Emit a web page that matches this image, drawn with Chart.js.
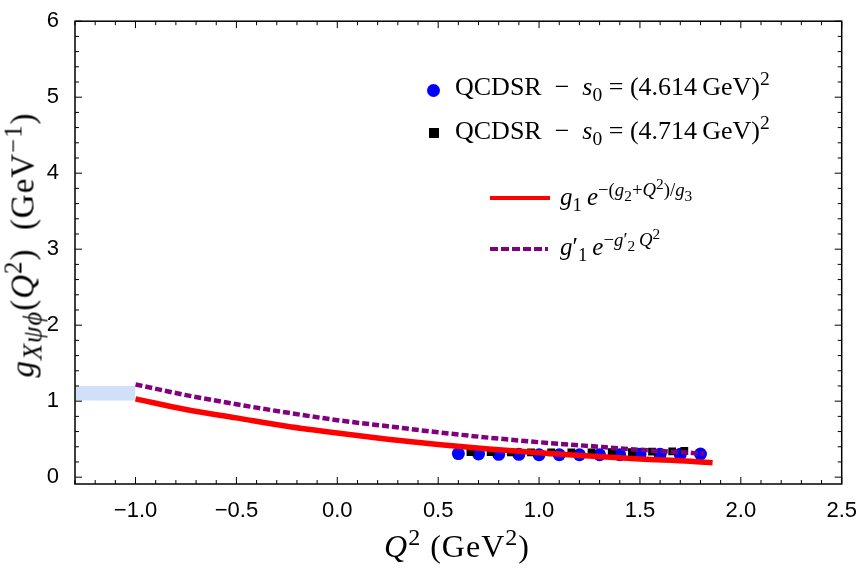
<!DOCTYPE html>
<html>
<head>
<meta charset="utf-8">
<script src="https://cdn.jsdelivr.net/npm/chart.js@4.4.1/dist/chart.umd.min.js"></script>
<style>
  html, body { margin: 0; padding: 0; background: #fff; }
  #wrap { position: relative; width: 863px; height: 569px; }
  .math { position: absolute; font-family: "Liberation Serif", "DejaVu Serif", serif; color: #000; white-space: nowrap; }
  .math sub, .math sup { font-size: 75%; line-height: 0; }
  .math sup sup, .math sup sub { font-size: 82%; }
  .mk { position: absolute; }
</style>
</head>
<body>
<div id="wrap">
  <canvas id="chart" width="863" height="569"></canvas>

  <div class="math" id="ytitle" style="left:23px; top:245px; font-size:33px; letter-spacing:1px; transform:translate(-50%,-50%) rotate(-90deg);">
    <i>g</i><sub style="font-size:80%"><i>Xψϕ</i></sub>(<i>Q</i><sup>2</sup>)&nbsp;&nbsp;(GeV<sup>−1</sup>)
  </div>
  <div class="math" id="xtitle" style="left:457px; top:546px; font-size:32px; letter-spacing:1px; transform:translate(-50%,-50%);">
    <i>Q</i><sup>2</sup>&nbsp;(GeV<sup>2</sup>)
  </div>

  <!-- legend -->
  <div class="mk" style="left:427px; top:84px; width:13px; height:13px; border-radius:50%; background:#0000ff;"></div>
  <div class="math" style="left:455px; top:72px; font-size:26px;">QCDSR &nbsp;−&nbsp; <i>s</i><sub>0</sub> = (4.614&thinsp;GeV)<sup>2</sup></div>
  <div class="mk" style="left:429px; top:128px; width:10px; height:10px; background:#000;"></div>
  <div class="math" style="left:455px; top:116px; font-size:26px;">QCDSR &nbsp;−&nbsp; <i>s</i><sub>0</sub> = (4.714&thinsp;GeV)<sup>2</sup></div>
  <div class="mk" style="left:490px; top:196px; width:60px; height:4px; background:#ff0000;"></div>
  <div class="math" style="left:560px; top:183px; font-size:25px;"><i>g</i><sub>1</sub>&thinsp;<i>e</i><sup>−(<i>g</i><sub>2</sub>+<i>Q</i><sup>2</sup>)/<i>g</i><sub>3</sub></sup></div>
  <div class="mk" style="left:490px; top:247px; width:58px; height:4px; background:repeating-linear-gradient(90deg,#800080 0 8px,transparent 8px 11px);"></div>
  <div class="math" style="left:560px; top:233px; font-size:25px;"><i>g</i>′<sub>1</sub>&thinsp;<i>e</i><sup>−<i>g</i>′<sub>2</sub>&thinsp;<i>Q</i><sup>2</sup></sup></div>
</div>

<script>
// x ticks / y ticks
const xTicks = [-1.0, -0.5, 0.0, 0.5, 1.0, 1.5, 2.0, 2.5];
const yTicks = [0, 1, 2, 3, 4, 5, 6];

// QCDSR points, s0 = (4.614 GeV)^2
const q2Blue = [0.6, 0.7, 0.8, 0.9, 1.0, 1.1, 1.2, 1.3, 1.4, 1.5, 1.6, 1.7, 1.8];
const gBlue  = [0.31, 0.305, 0.30, 0.30, 0.295, 0.295, 0.295, 0.295, 0.295, 0.30, 0.30, 0.30, 0.305];

// QCDSR points, s0 = (4.714 GeV)^2
const q2Black = [0.66, 0.76, 0.86, 0.96, 1.06, 1.16, 1.26, 1.36, 1.46, 1.56, 1.66, 1.72];
const gBlack  = [0.33, 0.33, 0.325, 0.325, 0.325, 0.325, 0.325, 0.33, 0.33, 0.335, 0.34, 0.345];

// fit g1 e^{-(g2+Q^2)/g3}
const q2Red = [-1.0, -0.75, -0.5, -0.25, 0.0, 0.25, 0.5, 0.75, 1.0, 1.25, 1.5, 1.75, 1.86];
const gRed  = [1.03, 0.89, 0.78, 0.67, 0.58, 0.50, 0.43, 0.37, 0.32, 0.28, 0.24, 0.21, 0.19];

// fit g1' e^{-g2' Q^2}
const q2Purple = [-1.0, -0.75, -0.5, -0.25, 0.0, 0.25, 0.5, 0.75, 1.0, 1.25, 1.5, 1.82];
const gPurple  = [1.22, 1.08, 0.96, 0.85, 0.75, 0.67, 0.59, 0.52, 0.46, 0.41, 0.36, 0.31];

// band at the left edge
const bandX = [-1.3, -1.0];
const bandTop = [1.20, 1.20];
const bandBottom = [1.01, 1.01];

const pts = (xs, ys) => xs.map((x, i) => ({ x: x, y: ys[i] }));
const fmt = v => v.toFixed(1).replace('-', '\u2212');

// Mathematica-style frame with inward ticks on all sides
const framePlugin = {
    id: 'frame',
    afterDraw(chart) {
        const ctx = chart.ctx, a = chart.chartArea;
        const xs = chart.scales.x, ys = chart.scales.y;
        ctx.save();
        ctx.strokeStyle = '#000';
        ctx.lineWidth = 1.5;
        ctx.strokeRect(a.left, a.top, a.right - a.left, a.bottom - a.top);
        ctx.lineWidth = 1;
        ctx.beginPath();
        for (let i = -13; i <= 25; i++) {
            const px = xs.getPixelForValue(i / 10);
            const len = (i % 5 === 0) ? 7 : 4;
            ctx.moveTo(px, a.bottom); ctx.lineTo(px, a.bottom - len);
            ctx.moveTo(px, a.top); ctx.lineTo(px, a.top + len);
        }
        for (let i = 0; i <= 30; i++) {
            const py = ys.getPixelForValue(i / 5);
            const len = (i % 5 === 0) ? 7 : 4;
            ctx.moveTo(a.left, py); ctx.lineTo(a.left + len, py);
            ctx.moveTo(a.right, py); ctx.lineTo(a.right - len, py);
        }
        ctx.stroke();
        ctx.restore();
    }
};

new Chart(document.getElementById('chart').getContext('2d'), {
    type: 'scatter',
    data: {
        datasets: [{
            data: pts(bandX, bandBottom),
            showLine: true,
            borderWidth: 0,
            pointRadius: 0,
            borderColor: 'rgba(0,0,0,0)',
            order: 5
        }, {
            data: pts(bandX, bandTop),
            showLine: true,
            borderWidth: 0,
            pointRadius: 0,
            borderColor: 'rgba(0,0,0,0)',
            backgroundColor: 'rgb(207,224,247)',
            fill: '-1',
            order: 4
        }, {
            data: pts(q2Blue, gBlue),
            pointStyle: 'circle',
            pointRadius: 6.5,
            backgroundColor: '#0000ff',
            borderWidth: 0,
            order: 3
        }, {
            data: pts(q2Black, gBlack),
            pointStyle: 'rect',
            pointRadius: 5.5,
            backgroundColor: '#000',
            borderWidth: 0,
            order: 2
        }, {
            data: pts(q2Red, gRed),
            showLine: true,
            pointRadius: 0,
            borderColor: '#ff0000',
            borderWidth: 5.5,
            cubicInterpolationMode: 'monotone',
            order: 1
        }, {
            data: pts(q2Purple, gPurple),
            showLine: true,
            pointRadius: 0,
            borderColor: '#800080',
            borderWidth: 4.5,
            borderDash: [7, 3],
            cubicInterpolationMode: 'monotone',
            order: 0
        }]
    },
    options: {
        responsive: false,
        animation: false,
        events: [],
        layout: { padding: { left: 0, right: 17, top: 10, bottom: 0 } },
        plugins: { legend: { display: false }, tooltip: { enabled: false } },
        scales: {
            x: {
                type: 'linear',
                min: -1.3,
                max: 2.5,
                afterBuildTicks: s => { s.ticks = xTicks.map(v => ({ value: v })); },
                afterFit: s => { s.height = 85; },
                grid: { display: false },
                border: { display: false },
                ticks: {
                    padding: 6,
                    color: '#000',
                    font: { family: 'Liberation Sans', size: 22 },
                    callback: v => fmt(v)
                }
            },
            y: {
                type: 'linear',
                min: -0.09,
                max: 6,
                afterBuildTicks: s => { s.ticks = yTicks.map(v => ({ value: v })); },
                afterFit: s => { s.width = 75; },
                grid: { display: false },
                border: { display: false },
                ticks: {
                    padding: 8,
                    color: '#000',
                    font: { family: 'Liberation Sans', size: 22 },
                    callback: v => String(v)
                }
            }
        }
    },
    plugins: [framePlugin]
});
</script>
</body>
</html>
